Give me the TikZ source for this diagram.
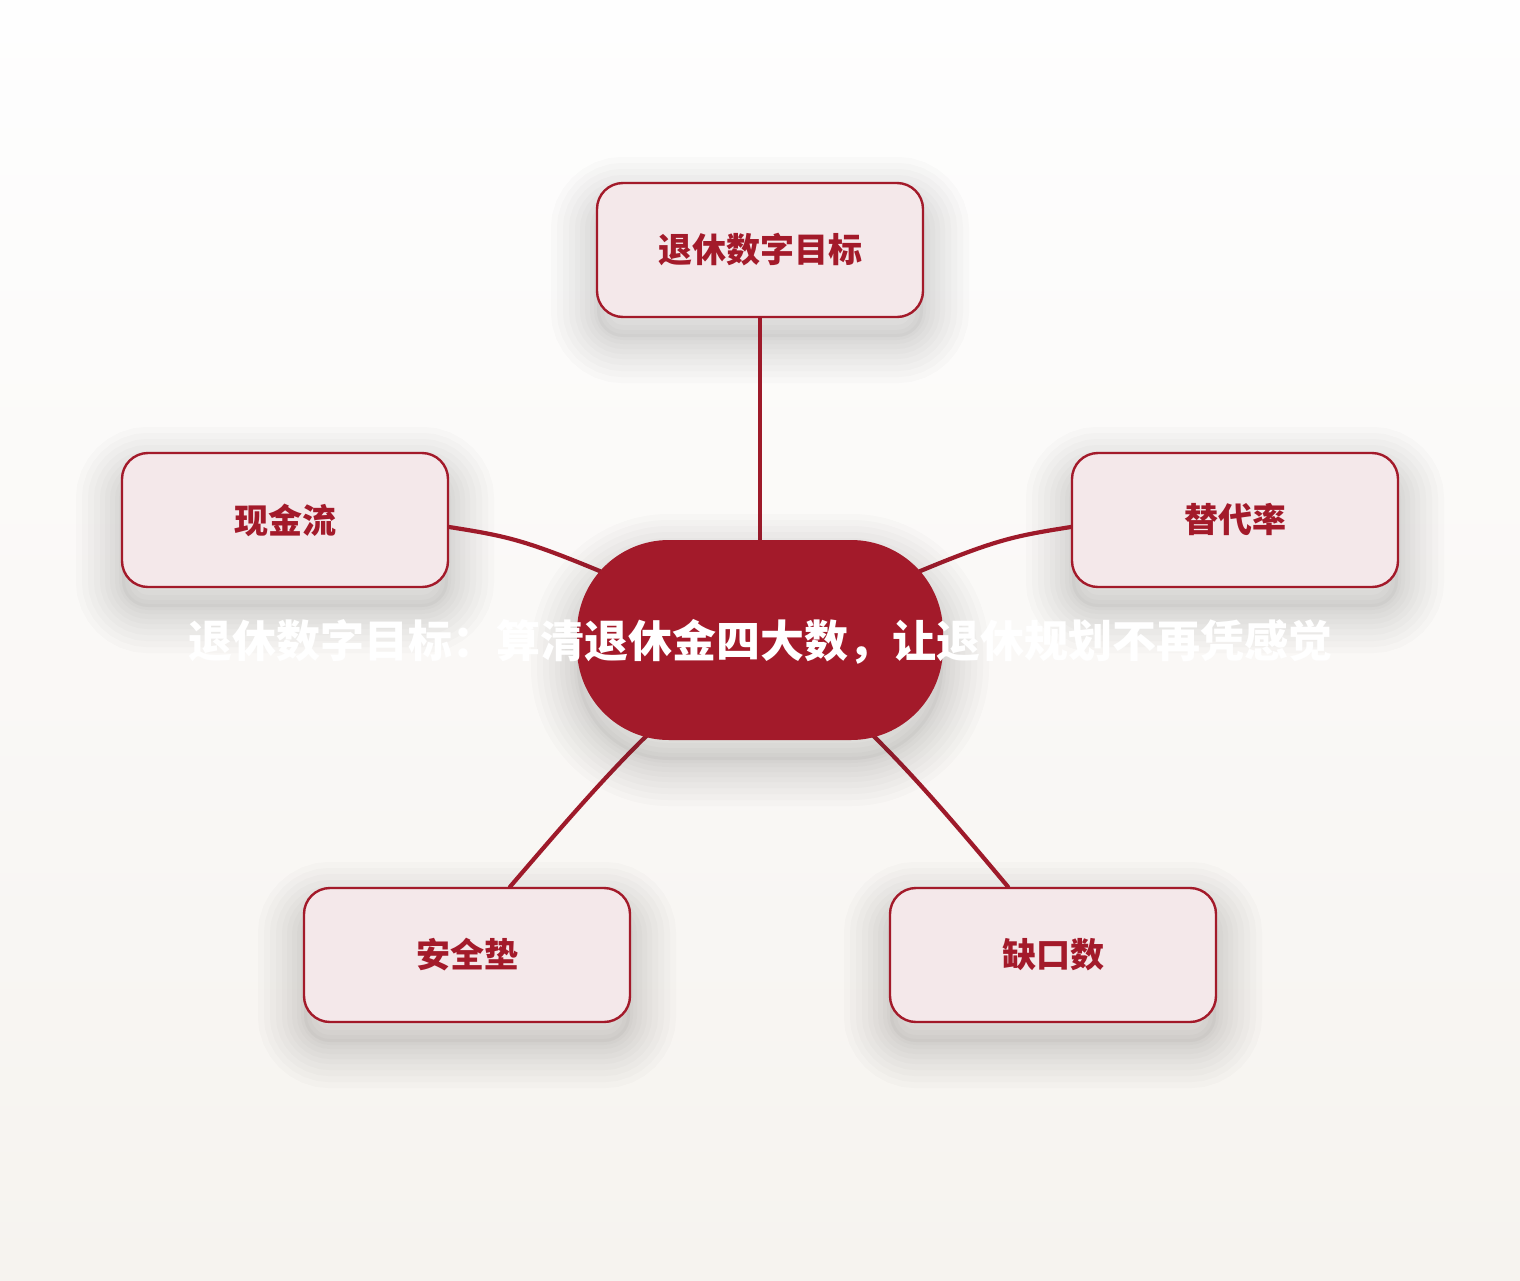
\documentclass[tikz,border=0pt]{standalone}
\usepackage{fontspec}
\newfontfamily\cjk{Noto Sans CJK SC}
\definecolor{deepred}{HTML}{A31A2A}
\definecolor{linered}{HTML}{9E1A2A}
\definecolor{pinkfill}{HTML}{F4E8EA}
\definecolor{bgtop}{HTML}{FEFEFE}
\definecolor{bgbot}{HTML}{F6F3EF}
\definecolor{shadowgray}{HTML}{3A3530}
\pgfdeclarelayer{front}
\pgfsetlayers{main,front}
\begin{document}
\begin{tikzpicture}[x=0.5pt,y=-0.5pt,
  ring/.style={preaction={draw=shadowgray, fill=none, draw opacity=0.021, line width=#1, transform canvas={yshift=-10pt}}},
  softshadow/.style={ring=46pt, ring=40pt, ring=34pt, ring=28pt, ring=22pt, ring=17pt, ring=12pt, ring=7pt, ring=3pt,
    preaction={fill=shadowgray, draw=none, fill opacity=0.04, transform canvas={yshift=-10pt}}},
  leaf/.style={draw=deepred, line width=1.2pt, fill=pinkfill, rounded corners=13pt,
    minimum width=163pt, minimum height=67pt, inner sep=0pt, text=deepred,
    font=\cjk\bfseries\fontsize{17pt}{20pt}\selectfont, softshadow},
  hub/.style={fill=deepred, rounded corners=46pt, minimum width=183pt, minimum height=100pt, inner sep=0pt,
    softshadow},
  title/.style={text=white, inner sep=0pt, font=\cjk\bfseries\fontsize{22pt}{26pt}\selectfont},
  link/.style={draw=linered, line width=2.1pt, line cap=round}]
\fill[top color=bgtop, bottom color=bgbot] (0,0) rectangle (1520,1280);
\useasboundingbox (0,0) rectangle (1520,1280);
\node[leaf] (goal) at (760,250) {退休数字目标};
\node[leaf] (cash) at (285,520) {现金流};
\node[leaf] (rate) at (1235,520) {替代率};
\node[leaf] (safe) at (467,955) {安全垫};
\node[leaf] (gap) at (1053,955) {缺口数};
\begin{pgfonlayer}{front}
\node[hub] (hub) at (760,640) {};
\node[title] (title) at ([yshift=-1pt]hub.center) {退休数字目标：算清退休金四大数，让退休规划不再凭感觉};
\end{pgfonlayer}
\draw[link] (goal) -- (hub.center);
\draw[link] ([yshift=-3.5pt]cash.east) .. controls (530,540) .. (hub.center);
\draw[link] ([yshift=-3.5pt]rate.west) .. controls (990,540) .. (hub.center);
\draw[link] ([xshift=21.5pt]safe.north) .. controls (600,782) and (660,712) .. (hub.center);
\draw[link] ([xshift=-22.5pt]gap.north) .. controls (920,782) and (860,712) .. (hub.center);
\end{tikzpicture}
\end{document}
